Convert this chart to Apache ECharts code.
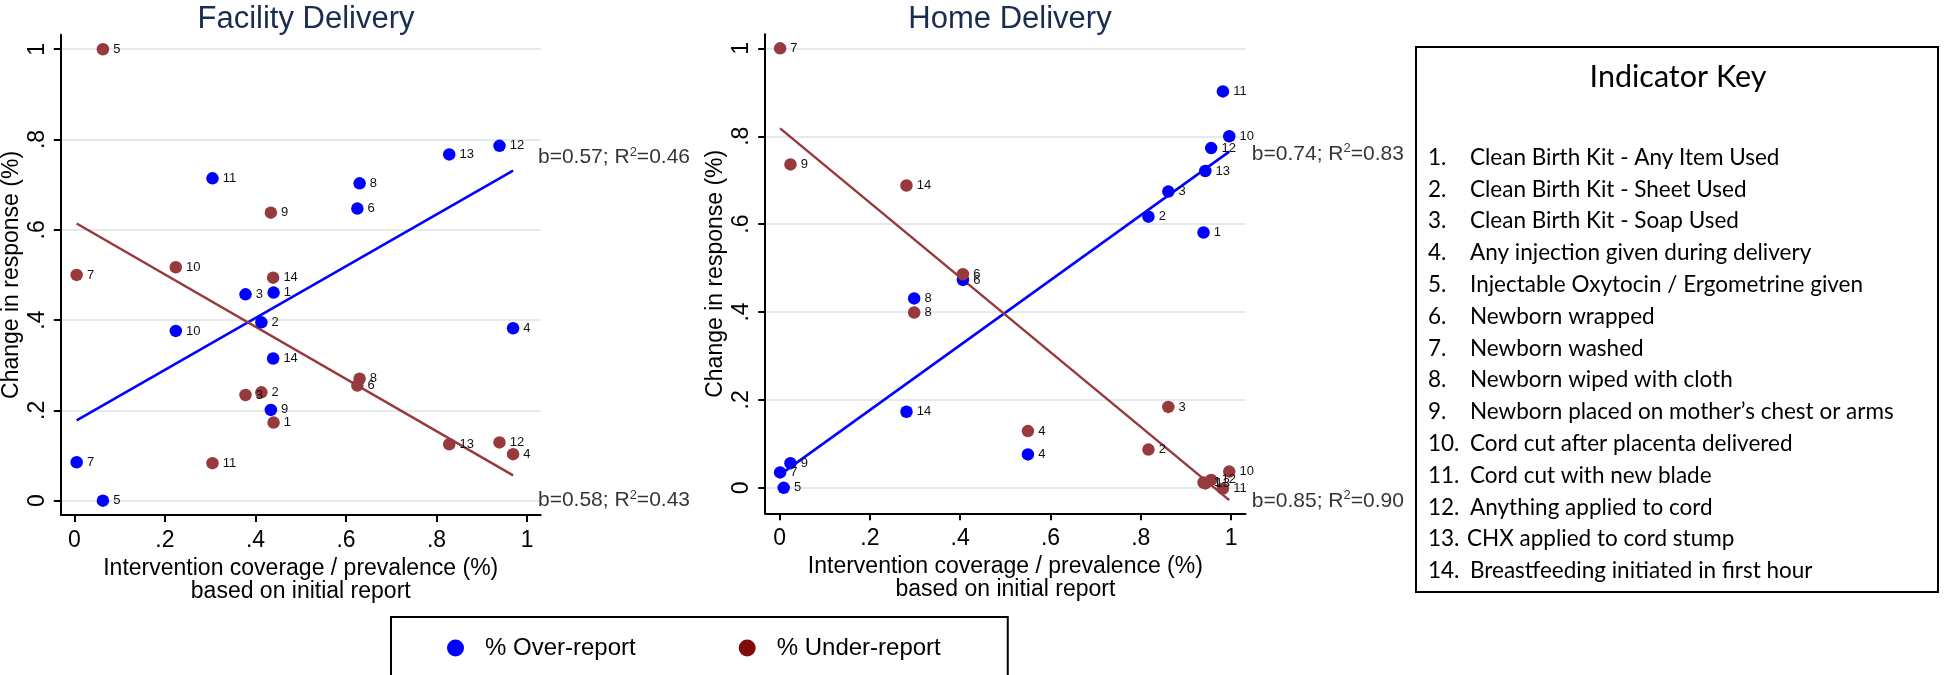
<!DOCTYPE html>
<html><head><meta charset="utf-8">
<script src="https://cdn.jsdelivr.net/npm/echarts@6/dist/echarts.min.js"></script>
<style>html,body{margin:0;padding:0;background:#fff}#c{width:1946px;height:675px}</style>
</head><body><div id="c"></div>
<script>
// ---------- data ----------
const indicatorIds = [1,2,3,4,5,6,7,8,9,10,11,12,13,14];
const facilityX     = [0.440,0.413,0.378,0.969,0.063,0.625,0.005,0.630,0.434,0.224,0.305,0.939,0.828,0.439];
const facilityOver  = [0.461,0.395,0.457,0.382,0.000,0.647,0.085,0.703,0.201,0.376,0.714,0.786,0.767,0.315];
const facilityUnder = [0.173,0.240,0.234,0.103,1.000,0.255,0.500,0.270,0.638,0.517,0.083,0.129,0.125,0.494];
const homeX     = [0.939,0.817,0.861,0.550,0.009,0.406,0.001,0.298,0.024,0.996,0.982,0.956,0.943,0.281];
const homeOver  = [0.581,0.617,0.674,0.076,0.000,0.473,0.035,0.431,0.056,0.800,0.902,0.773,0.721,0.173];
const homeUnder = [0.012,0.087,0.184,0.129,null,0.486,1.000,0.399,0.736,0.037,-0.002,0.018,0.010,0.688];
// fitted line end points (x at min/max coverage)
const facilityFitX     = [0.005, 0.969];
const facilityOverFit  = [0.178, 0.731];
const facilityUnderFit = [0.614, 0.056];
const homeFitX     = [0.001, 0.996];
const homeOverFit  = [0.030, 0.765];
const homeUnderFit = [0.818, -0.028];
const tickValues = [0, 0.2, 0.4, 0.6, 0.8, 1];
const tickLabels = ['0', '.2', '.4', '.6', '.8', '1'];
const fitStats = {
  facilityOver: ['0.57', '0.46'], facilityUnder: ['0.58', '0.43'],
  homeOver: ['0.74', '0.83'], homeUnder: ['0.85', '0.90']
};
const keyItems = [
  'Clean Birth Kit - Any Item Used','Clean Birth Kit - Sheet Used','Clean Birth Kit - Soap Used',
  'Any injection given during delivery','Injectable Oxytocin / Ergometrine given','Newborn wrapped',
  'Newborn washed','Newborn wiped with cloth','Newborn placed on mother\u2019s chest or arms',
  'Cord cut after placenta delivered','Cord cut with new blade','Anything applied to cord',
  'CHX applied to cord stump','Breastfeeding initiated in first hour'
];

// ---------- styles ----------
const FONT = 'Liberation Sans, Arial, sans-serif';
const KEYFONT = 'Lato, "Open Sans", sans-serif';
const BLUE = '#0000ff';
const RED = '#963a3d';
const RED_LEG = '#820c0c';

function pts(xs, ys) {
  const out = [];
  xs.forEach((x, i) => { if (ys[i] !== null) out.push([x, ys[i], indicatorIds[i]]); });
  return out;
}
function line(xs, ys) { return xs.map((x, i) => [x, ys[i]]); }
function fmtTick(v) { const i = tickValues.indexOf(v); return i >= 0 ? tickLabels[i] : ''; }

function xAxisCfg(grid, min, max) {
  return {
    type: 'value', gridIndex: grid, min: min, max: max,
    axisLine: { show: true, onZero: false, lineStyle: { color: '#000', width: 2 } },
    axisTick: { show: true, customValues: tickValues, length: 7, lineStyle: { color: '#000', width: 2 } },
    axisLabel: { customValues: tickValues, formatter: fmtTick, margin: 14, fontSize: 23, color: '#000', fontFamily: FONT },
    splitLine: { show: false },
    name: 'Intervention coverage / prevalence (%)\nbased on initial report',
    nameLocation: 'middle', nameGap: 37,
    nameTextStyle: { fontSize: 23, color: '#000', fontFamily: FONT, lineHeight: 23 }
  };
}
function yAxisCfg(grid, min, max) {
  return {
    type: 'value', gridIndex: grid, min: min, max: max,
    axisLine: { show: true, onZero: false, lineStyle: { color: '#000', width: 2 } },
    axisTick: { show: true, customValues: tickValues, length: 7, lineStyle: { color: '#000', width: 2 } },
    axisLabel: { customValues: tickValues, formatter: fmtTick, rotate: 90, margin: 12, fontSize: 23, color: '#000', fontFamily: FONT },
    splitLine: { show: true, lineStyle: { color: '#e1ebeb', width: 2 } },
    name: 'Change in response (%)', nameLocation: 'middle', nameGap: 38, nameRotate: 90,
    nameTextStyle: { fontSize: 23, color: '#000', fontFamily: FONT }
  };
}
function scatter(name, grid, data, color) {
  return {
    type: 'scatter', name: name, xAxisIndex: grid, yAxisIndex: grid, data: data,
    symbol: 'circle', symbolSize: 12.5, itemStyle: { color: color, opacity: 1 },
    label: { show: true, position: 'right', distance: 4, formatter: p => String(p.value[2]),
      fontSize: 13, color: '#111', fontFamily: FONT },
    labelLayout: { hideOverlap: false }, clip: false, silent: true, z: 3
  };
}
function fit(name, grid, data, color) {
  return {
    type: 'line', name: name, xAxisIndex: grid, yAxisIndex: grid, data: data,
    symbol: 'none', lineStyle: { color: color, width: 2.5 }, silent: true, z: 2, clip: false
  };
}
function statText(name, grid, x, y, stats) {
  return {
    type: 'scatter', name: name, xAxisIndex: grid, yAxisIndex: grid, data: [[x, y]],
    symbolSize: 0, silent: true, clip: false,
    label: {
      show: true, position: 'right', distance: 0,
      formatter: '{a|b=' + stats[0] + '; R}{s|2}{a|=' + stats[1] + '}',
      rich: {
        a: { fontSize: 21, color: '#000', fontFamily: FONT, lineHeight: 24 },
        s: { fontSize: 13, color: '#000', fontFamily: FONT, lineHeight: 13, verticalAlign: 'top', padding: [0, 0, 10, 0] }
      }
    }
  };
}

const chart = echarts.init(document.getElementById('c'), null, { renderer: 'canvas' });

const graphics = [
  { type: 'rect', shape: { x: 1416, y: 47, width: 522, height: 545 },
    style: { fill: '#fff', stroke: '#000', lineWidth: 2 }, z: 1 },
  { type: 'text', x: 1678, y: 77, z: 2,
    style: { text: 'Indicator Key', font: '30.5px ' + KEYFONT, fill: '#000', textAlign: 'center', textVerticalAlign: 'middle' } }
];
keyItems.forEach((t, i) => {
  const y = 157.5 + i * 31.8;
  graphics.push({ type: 'text', x: 1428, y: y, z: 2,
    style: { text: (i + 1) + '.', font: '22.5px ' + KEYFONT, fill: '#000', textVerticalAlign: 'middle' } });
  graphics.push({ type: 'text', x: i === 12 ? 1467 : 1470, y: y, z: 2,
    style: { text: t, font: '22.5px ' + KEYFONT, fill: '#000', textVerticalAlign: 'middle' } });
});

chart.setOption({
  backgroundColor: '#fff',
  animation: false,
  title: [
    { text: 'Facility Delivery', left: 301, top: -1, textAlign: 'center',
      textStyle: { fontSize: 31, fontWeight: 'normal', color: '#1a2d50', fontFamily: FONT } },
    { text: 'Home Delivery', left: 1005, top: -1, textAlign: 'center',
      textStyle: { fontSize: 31, fontWeight: 'normal', color: '#1a2d50', fontFamily: FONT } }
  ],
  grid: [
    { left: 60.8, top: 34.8, width: 479.9, height: 480.3, containLabel: false, outerBoundsMode: 'none' },
    { left: 765.2, top: 34.3, width: 480.3, height: 479, containLabel: false, outerBoundsMode: 'none' }
  ],
  xAxis: [xAxisCfg(0, -0.03, 1.03), xAxisCfg(1, -0.032, 1.032)],
  yAxis: [yAxisCfg(0, -0.032, 1.032), yAxisCfg(1, -0.058, 1.032)],
  legend: {
    left: 391, top: 617,
    data: [
      { name: '% Over-report', itemStyle: { color: BLUE } },
      { name: '% Under-report', itemStyle: { color: RED_LEG } }
    ],
    icon: 'circle', itemWidth: 17, itemHeight: 17, itemGap: 103,
    padding: [19, 67, 20, 56],
    borderColor: '#000', borderWidth: 2, backgroundColor: '#fff',
    textStyle: { fontSize: 24, color: '#000', fontFamily: FONT, padding: [0, 0, 0, 16] },
    selectedMode: false
  },
  series: [
    fit('fitFO', 0, line(facilityFitX, facilityOverFit), BLUE),
    fit('fitFU', 0, line(facilityFitX, facilityUnderFit), RED),
    scatter('% Over-report', 0, pts(facilityX, facilityOver), BLUE),
    scatter('% Under-report', 0, pts(facilityX, facilityUnder), RED),
    fit('fitHO', 1, line(homeFitX, homeOverFit), BLUE),
    fit('fitHU', 1, line(homeFitX, homeUnderFit), RED),
    scatter('% Over-report', 1, pts(homeX, homeOver), BLUE),
    scatter('% Under-report', 1, pts(homeX, homeUnder), RED),
    statText('t1', 0, 1.024, 0.76, fitStats.facilityOver),
    statText('t2', 0, 1.024, 0.0, fitStats.facilityUnder),
    statText('t3', 1, 1.046, 0.76, fitStats.homeOver),
    statText('t4', 1, 1.046, -0.03, fitStats.homeUnder)
  ],
  graphic: graphics
});
</script></body></html>
